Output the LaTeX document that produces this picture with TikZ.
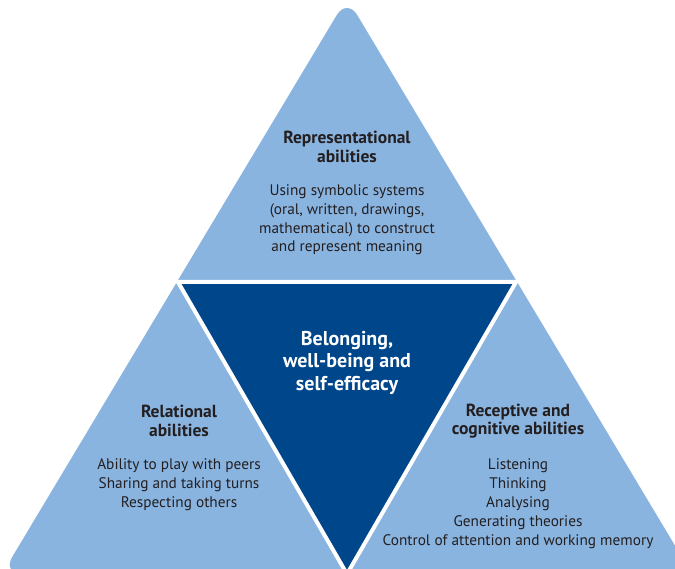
\documentclass[tikz,border=0pt]{standalone}
\usepackage{fontspec}
\setmainfont{PT Sans}
\usepackage{xcolor}
\usepackage{tikz}
\usetikzlibrary{positioning}
\definecolor{lightblue}{HTML}{8AB4E0}
\definecolor{darkblue}{HTML}{00468A}
\definecolor{textgray}{HTML}{231F20}
\tikzstyle{outer} = [fill=lightblue, rounded corners=20pt]
\tikzstyle{inner} = [fill=darkblue, draw=white, line width=4pt, line join=miter]
\tikzstyle{title} = [align=center, text=textgray, font=\fontsize{17.5}{19}\selectfont\bfseries, inner sep=0pt]
\tikzstyle{body} = [align=center, text=textgray, font=\fontsize{15.3}{18.8}\selectfont, inner sep=0pt]
\tikzstyle{core} = [align=center, text=white, font=\fontsize{20}{22.5}\selectfont\bfseries, inner sep=0pt]

\begin{document}
\begin{tikzpicture}[x=1pt,y=-1pt]
		\useasboundingbox (0,0) rectangle (675,569);
		\fill[white] (0,0) rectangle (675,569);
		\coordinate (apex) at (347,-2);
		\coordinate (bl) at (2,574);
		\coordinate (br) at (692,574);
		\coordinate (ml) at (178,282);
		\coordinate (mr) at (516,282);
		\coordinate (mb) at (347,574);
		\path[outer] (apex) -- (br) -- (bl) -- cycle;
		\path[inner] (ml) -- (mr) -- (mb) -- cycle;
		\node (reptitle) [title,anchor=base] at (347,163) {Representational\\abilities};
		\node (repbody) [body,anchor=base] at (347,252) {Using symbolic systems\\(oral, written, drawings,\\mathematical) to construct\\and represent meaning};
		\node (coretext) [core,anchor=base] at (347,390) {Belonging,\\well-being and\\self-efficacy};
		\node (reltitle) [title,anchor=base] at (179,436) {Relational\\abilities};
		\node (relbody) [body,anchor=base] at (179,507) {Ability to play with peers\\Sharing and taking turns\\Respecting others};
		\node (cogtitle) [title,anchor=base] at (518,435) {Receptive and\\cognitive abilities};
		\node (cogbody) [body,anchor=base] at (518,545) {Listening\\Thinking\\Analysing\\Generating theories\\Control of attention and working memory};
	\end{tikzpicture}
\end{document}
